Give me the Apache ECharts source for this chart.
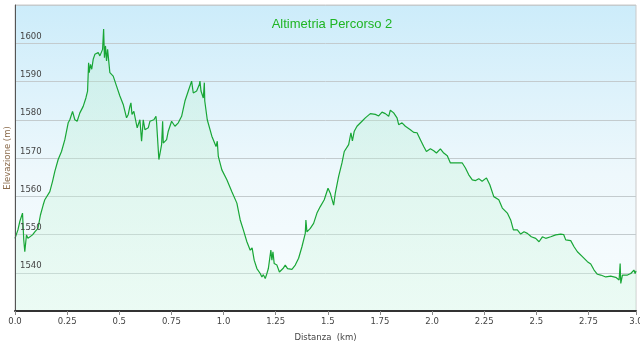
<!DOCTYPE html>
<html>
<head>
<meta charset="utf-8">
<script src="https://cdn.jsdelivr.net/npm/echarts@6/dist/echarts.min.js"></script>
<style>
html,body{margin:0;padding:0;background:#fff;}
#chart{width:640px;height:343px;}
</style>
</head>
<body>
<div id="chart"></div>
<script>
// Distance along the route (km)
var distanceKm = [
0.000,0.014,0.023,0.031,0.036,0.042,0.047,0.055,0.062,0.071,0.084,0.095,0.110,0.122,0.135,0.143,0.151,0.167,0.180,0.191,
0.207,0.223,0.239,0.255,0.263,0.276,0.287,0.298,0.311,0.327,0.340,0.348,0.353,0.356,0.362,0.368,0.375,0.383,0.399,0.407,
0.420,0.425,0.429,0.434,0.439,0.444,0.455,0.471,0.487,0.503,0.519,0.535,0.543,0.551,0.556,0.561,0.570,0.578,0.586,0.599,
0.607,0.615,0.623,0.639,0.647,0.666,0.676,0.679,0.690,0.703,0.708,0.711,0.727,0.735,0.751,0.767,0.783,0.799,0.815,0.831,
0.839,0.847,0.855,0.871,0.884,0.887,0.892,0.903,0.908,0.910,0.922,0.944,0.964,0.970,0.975,0.992,1.016,1.040,1.064,1.080,
1.095,1.112,1.128,1.137,1.147,1.160,1.176,1.184,1.191,1.200,1.208,1.215,1.227,1.232,1.237,1.243,1.256,1.268,1.285,1.296,
1.307,1.328,1.344,1.360,1.376,1.392,1.395,1.400,1.416,1.432,1.448,1.464,1.483,1.501,1.512,1.528,1.536,1.552,1.568,1.579,
1.600,1.611,1.618,1.627,1.640,1.664,1.680,1.704,1.728,1.744,1.760,1.776,1.792,1.800,1.816,1.832,1.840,1.856,1.872,1.896,
1.912,1.928,1.944,1.960,1.973,1.992,2.008,2.021,2.040,2.056,2.073,2.088,2.145,2.160,2.176,2.193,2.209,2.224,2.240,2.261,
2.277,2.296,2.320,2.337,2.361,2.377,2.390,2.409,2.425,2.441,2.457,2.476,2.497,2.513,2.529,2.545,2.569,2.593,2.617,2.631,
2.641,2.649,2.665,2.681,2.697,2.721,2.745,2.761,2.777,2.793,2.809,2.833,2.857,2.881,2.897,2.902,2.905,2.913,2.937,2.953,
2.968,2.974,2.978
];
// Elevation (m)
var elevationM = [
1549.0,1551.2,1553.4,1553.8,1555.6,1548.6,1545.5,1549.9,1549.0,1548.6,1549.9,1550.7,1551.6,1555.1,1557.7,1559.1,1559.5,1561.2,1563.9,1566.5,
1569.6,1571.7,1574.8,1579.2,1580.0,1582.2,1580.0,1579.6,1581.8,1583.5,1585.7,1587.5,1594.9,1592.3,1594.5,1593.2,1595.8,1597.1,1597.6,1596.7,
1598.4,1603.7,1596.2,1599.3,1595.4,1598.4,1592.3,1591.4,1588.8,1586.2,1584.0,1580.5,1581.4,1583.5,1584.4,1581.4,1582.2,1580.0,1577.9,1580.0,
1574.4,1580.0,1577.4,1577.9,1579.6,1580.0,1580.9,1579.2,1569.6,1573.5,1579.6,1573.9,1574.8,1577.0,1579.6,1578.3,1579.2,1580.9,1584.9,1587.5,
1587.5,1590.1,1587.0,1587.5,1589.2,1590.1,1587.5,1585.7,1589.7,1584.9,1580.0,1575.7,1573.0,1574.4,1570.4,1566.9,1564.3,1561.2,1558.2,1553.8,
1551.2,1548.1,1545.9,1546.5,1543.3,1541.1,1539.8,1538.9,1539.5,1538.5,1539.8,1541.1,1545.9,1543.3,1545.5,1542.4,1542.0,1540.2,1541.1,1542.0,
1541.1,1540.9,1542.0,1543.8,1546.8,1550.3,1553.8,1550.7,1551.6,1552.9,1555.6,1557.3,1559.1,1562.1,1560.8,1557.7,1560.8,1565.2,1568.7,1571.7,
1573.5,1576.6,1574.5,1577.0,1578.3,1579.6,1580.5,1581.6,1581.4,1581.0,1582.0,1581.6,1580.9,1582.5,1581.8,1580.5,1578.7,1579.2,1578.3,1577.4,
1576.7,1576.6,1574.8,1573.0,1571.7,1572.4,1571.9,1571.3,1572.4,1571.3,1570.6,1568.7,1568.7,1567.4,1565.6,1564.3,1564.1,1564.6,1563.9,1564.8,
1563.0,1559.9,1559.1,1556.9,1555.6,1553.8,1551.2,1551.2,1550.1,1550.7,1550.3,1549.4,1549.0,1548.1,1549.4,1549.0,1549.4,1549.9,1550.1,1550.0,
1548.6,1548.1,1548.4,1546.8,1545.5,1544.2,1542.9,1542.3,1540.7,1539.6,1539.4,1538.9,1539.1,1538.8,1538.1,1542.4,1537.2,1539.4,1539.4,1539.8,
1540.7,1539.8,1540.5
];
// Tick labels
var xTickLabels = ['0.0','0.25','0.5','0.75','1.0','1.25','1.5','1.75','2.0','2.25','2.5','2.75','3.0'];
var yTickLabels = ['1540','1550','1560','1570','1580','1590','1600'];

var seriesData = distanceKm.map(function(d, i){ return [d, elevationM[i]]; });

var chart = echarts.init(document.getElementById('chart'), null, {renderer:'canvas'});
var tickFont = 'DejaVu Sans';
function yLabel(v){
  var i = Math.round((v - 1540) / 10);
  return (i >= 0 && i < yTickLabels.length) ? yTickLabels[i] : '';
}
chart.setOption({
  animation: false,
  backgroundColor: '#ffffff',
  title: {
    text: 'Altimetria Percorso 2',
    left: 327, top: 13, textAlign: 'center',
    textStyle: {color: '#1fb524', fontSize: 13, fontWeight: 'normal', fontFamily: 'Liberation Sans'}
  },
  grid: {
    left: 15, right: 4, top: 5, bottom: 32,
    containLabel: false, outerBoundsMode: 'none',
    show: true,
    borderColor: '#c9c9c9', borderWidth: 1,
    backgroundColor: new echarts.graphic.LinearGradient(0,0,0,1,[
      {offset:0, color:'#ccecfa'},
      {offset:0.55, color:'#eef8fc'},
      {offset:1, color:'#f8fdfe'}
    ])
  },
  xAxis: {
    type: 'value', min: 0, max: 2.978, interval: 0.25,
    name: 'Distanza  (km)', nameLocation: 'middle', nameGap: 22, nameMoveOverlap: false,
    nameTextStyle: {color: '#444', fontSize: 8.5, fontFamily: tickFont},
    axisLine: {show: true, onZero: false, lineStyle: {color: '#333', width: 2}},
    axisTick: {show: true, length: 4, lineStyle: {color: '#888'}},
    axisLabel: {
      show: true, margin: 6, color: '#444', fontSize: 8.5, fontFamily: tickFont,
      showMaxLabel: true, showMinLabel: true,
      formatter: function(v){
        var i = Math.round(v / 0.25);
        if (Math.abs(v - 2.978) < 1e-6) return xTickLabels[xTickLabels.length - 1];
        return xTickLabels[i] !== undefined ? xTickLabels[i] : '';
      }
    },
    splitLine: {show: false},
    z: 5
  },
  yAxis: [{
    type: 'value', min: 1530, max: 1610, interval: 10,
    axisLine: {show: false},
    axisTick: {show: false},
    axisLabel: {show: false},
    splitLine: {show: true, lineStyle: {color: '#c3cbce', width: 1}},
    z: 1
  }, {
    type: 'value', min: 1530, max: 1610, interval: 10, position: 'left',
    name: 'Elevazione (m)', nameLocation: 'middle', nameGap: 3, nameRotate: 90, nameMoveOverlap: false,
    nameTextStyle: {color: '#8a6a4a', fontSize: 8.5, fontFamily: tickFont},
    axisLine: {show: true, lineStyle: {color: '#555', width: 1}},
    axisTick: {show: false},
    axisLabel: {
      inside: true, margin: 5, color: '#444', fontSize: 8.5, fontFamily: tickFont,
      verticalAlign: 'bottom', padding: [0,0,2,0],
      formatter: yLabel
    },
    splitLine: {show: false},
    z: 5
  }],
  series: [{
    type: 'line',
    data: seriesData,
    yAxisIndex: 0,
    symbol: 'none',
    smooth: false,
    sampling: 'none',
    lineStyle: {color: '#18a636', width: 1.2},
    areaStyle: {
      color: new echarts.graphic.LinearGradient(0,0,0,1,[
        {offset:0, color:'rgba(175,236,200,0.40)'},
        {offset:1, color:'rgba(215,248,228,0.55)'}
      ])
    },
    z: 3
  }]
});
</script>
</body>
</html>
